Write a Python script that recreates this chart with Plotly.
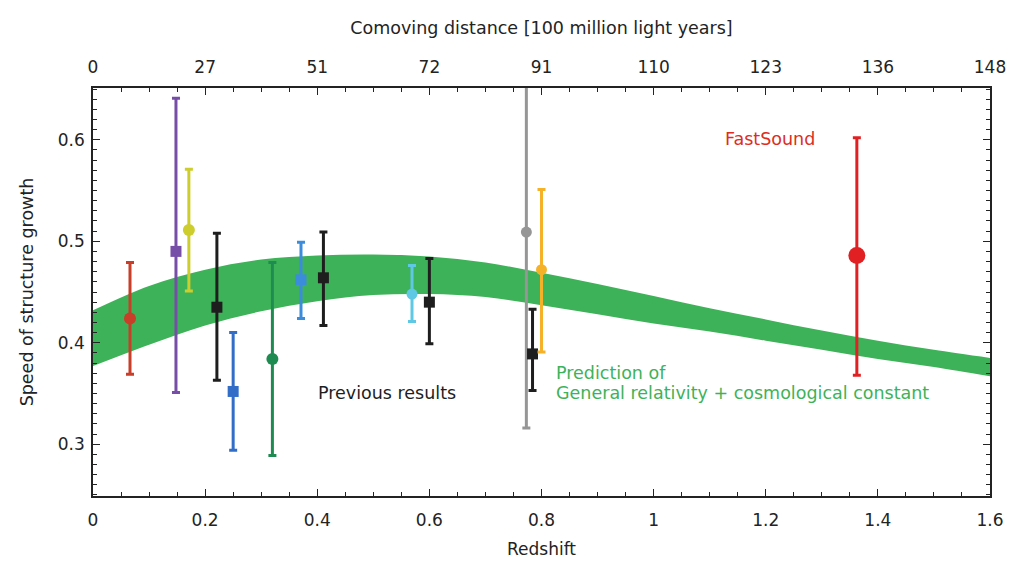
import plotly.graph_objects as go

# Growth-rate measurements: redshift, value, upper/lower error-bar ends
labels = ["6dFGS", "2dFLenS", "SDSS LRG", "2dFGRS", "SDSS MGS", "WiggleZ a", "BOSS LOWZ",
          "GAMA", "WiggleZ b", "BOSS CMASS", "VIPERS", "WiggleZ c", "VVDS", "FastSound"]
z_vals = [0.066, 0.148, 0.171, 0.221, 0.25, 0.32, 0.371, 0.411, 0.569, 0.60, 0.773, 0.784, 0.80, 1.3625]
f_vals = [0.424, 0.490, 0.511, 0.435, 0.352, 0.384, 0.462, 0.464, 0.448, 0.440, 0.509, 0.389, 0.472, 0.486]
f_hi = [0.479, 0.641, 0.571, 0.508, 0.410, 0.479, 0.499, 0.509, 0.476, 0.483, 0.702, 0.433, 0.551, 0.602]
f_lo = [0.369, 0.351, 0.451, 0.363, 0.294, 0.289, 0.424, 0.417, 0.421, 0.399, 0.316, 0.353, 0.391, 0.368]
colors = ["rgb(200,62,40)", "rgb(118,78,168)", "rgb(205,205,45)", "rgb(30,30,30)", "rgb(50,110,200)",
          "rgb(30,140,80)", "rgb(60,140,220)", "rgb(30,30,30)", "rgb(95,200,228)", "rgb(30,30,30)",
          "rgb(150,150,150)", "rgb(30,30,30)", "rgb(245,178,40)", "rgb(225,32,35)"]
symbols = ["circle", "square", "circle", "square", "square", "circle", "square", "square",
           "circle", "square", "circle", "square", "circle", "circle"]
sizes = [12, 11, 12, 11, 11, 12, 11, 11, 11, 11, 11, 11, 11, 17]

# GR + cosmological constant prediction band
band_z = [0, 0.1, 0.2, 0.3, 0.4, 0.5, 0.6, 0.7, 0.8, 0.9, 1.0, 1.1, 1.2, 1.3, 1.4, 1.5, 1.6]
band_hi = [0.432, 0.456, 0.472, 0.482, 0.486, 0.487, 0.485, 0.479, 0.469, 0.458, 0.446,
           0.434, 0.423, 0.412, 0.402, 0.393, 0.385]
band_lo = [0.377, 0.398, 0.417, 0.431, 0.441, 0.447, 0.448, 0.445, 0.437, 0.428, 0.419,
           0.411, 0.402, 0.393, 0.384, 0.376, 0.367]

# Top axis: comoving distance at the redshift ticks
top_tick_z = [0, 0.2, 0.4, 0.6, 0.8, 1.0, 1.2, 1.4, 1.6]
top_tick_text = ["0", "27", "51", "72", "91", "110", "123", "136", "148"]

band_color = "rgb(62,178,88)"
font_fam = "DejaVu Sans, Liberation Sans, Arial, sans-serif"
ink = "rgb(35,35,35)"

fig = go.Figure()
fig.add_trace(go.Scatter(x=band_z, y=band_lo, mode="lines", line=dict(width=0, color=band_color),
                         line_shape="spline", showlegend=False, hoverinfo="skip"))
fig.add_trace(go.Scatter(x=band_z, y=band_hi, mode="lines", line=dict(width=0, color=band_color),
                         line_shape="spline", fill="tonexty", fillcolor=band_color,
                         showlegend=False, hoverinfo="skip"))

for i in range(len(z_vals)):
    fig.add_trace(go.Scatter(
        x=[z_vals[i]], y=[f_vals[i]], mode="markers", name=labels[i], showlegend=False,
        marker=dict(symbol=symbols[i], size=sizes[i], color=colors[i], line=dict(width=0)),
        error_y=dict(type="data", symmetric=False,
                     array=[f_hi[i] - f_vals[i]], arrayminus=[f_vals[i] - f_lo[i]],
                     color=colors[i], thickness=3, width=4),
        cliponaxis=True,
    ))

# invisible trace so the top axis is drawn
fig.add_trace(go.Scatter(x=top_tick_z, y=[None] * len(top_tick_z), xaxis="x2",
                         mode="markers", showlegend=False, hoverinfo="skip"))

axis_common = dict(showgrid=False, zeroline=False, showline=True, linecolor=ink, linewidth=1.5,
                   ticks="inside", ticklen=7, tickwidth=1.3, tickcolor=ink, automargin=False,
                   tickfont=dict(family=font_fam, size=17, color=ink))

fig.update_layout(
    width=1015, height=562,
    margin=dict(l=93, r=25, t=88, b=66),
    paper_bgcolor="white", plot_bgcolor="white",
    font=dict(family=font_fam, color=ink),
    xaxis=dict(range=[0, 1.6], tickvals=[0, 0.2, 0.4, 0.6, 0.8, 1.0, 1.2, 1.4, 1.6],
               ticktext=["0", "0.2", "0.4", "0.6", "0.8", "1", "1.2", "1.4", "1.6"],
               mirror="ticks", ticklabelstandoff=8,
               minor=dict(dtick=0.05, ticks="inside", ticklen=4, tickcolor=ink),
               title=dict(text="Redshift", font=dict(size=17, family=font_fam, color=ink), standoff=14),
               **axis_common),
    xaxis2=dict(range=[0, 1.6], overlaying="x", side="top", tickvals=top_tick_z, ticktext=top_tick_text,
                showgrid=False, zeroline=False, showline=False, ticks="", automargin=False,
                tickfont=dict(family=font_fam, size=17, color=ink), ticklabelstandoff=11,
                title=dict(text="Comoving distance [100 million light years]",
                           font=dict(size=17.5, family=font_fam, color=ink), standoff=17)),
    yaxis=dict(range=[0.249, 0.651], tickvals=[0.3, 0.4, 0.5, 0.6], ticktext=["0.3", "0.4", "0.5", "0.6"],
               mirror="ticks", ticklabelstandoff=3,
               minor=dict(dtick=0.01, ticks="inside", ticklen=4, tickcolor=ink),
               title=dict(text="Speed of structure growth", font=dict(size=17.5, family=font_fam, color=ink),
                          standoff=20),
               **axis_common),
    annotations=[
        dict(x=1.207, y=0.601, text="FastSound", showarrow=False,
             font=dict(family=font_fam, size=17.5, color="rgb(222,45,35)")),
        dict(x=0.525, y=0.350, text="Previous results", showarrow=False,
             font=dict(family=font_fam, size=17.5, color="rgb(30,30,30)")),
        dict(x=0.822, y=0.370, text="Prediction of", showarrow=False, xanchor="left",
             font=dict(family=font_fam, size=17.5, color=band_color)),
        dict(x=0.822, y=0.350, text="General relativity + cosmological constant", showarrow=False,
             xanchor="left", font=dict(family=font_fam, size=17.5, color=band_color)),
    ],
)

fig.write_html("out.html")
